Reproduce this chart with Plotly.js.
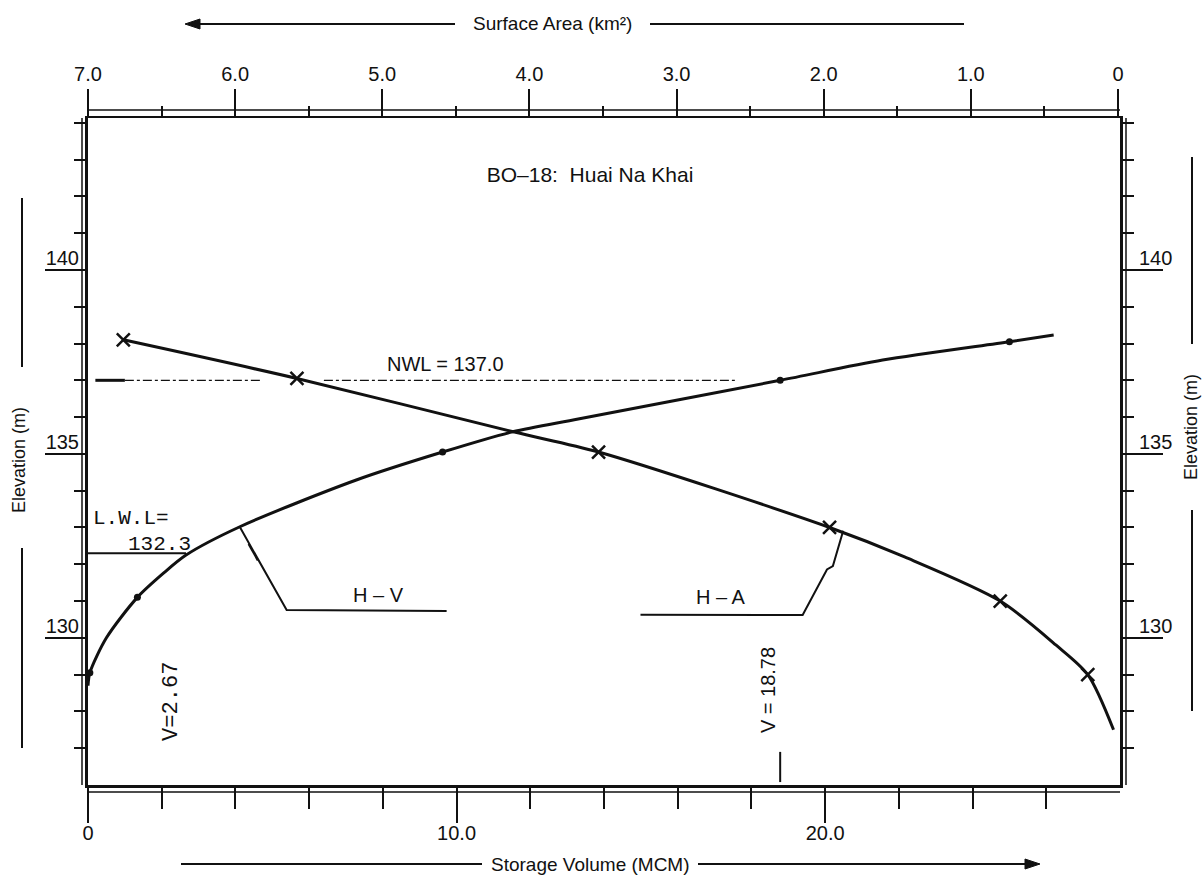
<!DOCTYPE html>
<html>
<head>
<meta charset="utf-8">
<script src="https://cdn.plot.ly/plotly-3.0.1.min.js"></script>
<style>html,body{margin:0;padding:0;background:#fff;}#chart{width:1202px;height:883px;}</style>
</head>
<body>
<div id="chart"></div>
<script>
// ---- data ----
// H-V curve (storage volume in MCM vs elevation in m)
const hvVolume    = [0, 0.05, 0.5, 1.34, 2.04, 2.66, 4.12, 7.28, 9.62, 11.52, 13.3, 18.78, 21.56, 25.0, 26.2];
const hvElevation = [128.7, 129.05, 130.0, 131.1, 131.75, 132.25, 133.02, 134.29, 135.05, 135.6, 135.95, 137.0, 137.55, 138.05, 138.23];
const hvDotVolume    = [0.05, 1.34, 9.62, 18.78, 25.0];
const hvDotElevation = [129.05, 131.1, 135.05, 137.0, 138.05];
// H-A curve (surface area in km2 vs elevation in m)
const haArea      = [6.76, 5.58, 4.11, 3.53, 1.96, 1.45, 0.80, 0.42, 0.205, 0.03];
const haElevation = [138.1, 137.05, 135.6, 135.05, 133.0, 132.2, 131.0, 129.8, 129.0, 127.5];
const haMarkArea      = [6.76, 5.58, 3.53, 1.96, 0.80, 0.205];
const haMarkElevation = [138.1, 137.05, 135.05, 133.0, 131.0, 129.0];
// reference levels
const nwl = 137.0, lwl = 132.3, vNwl = 18.78, vLwl = 2.67;
// axes ticks
const volTickVals = [0, 10, 20];
const volTickText = ['0', '10.0', '20.0'];
const volMinor = [2, 4, 6, 8, 12, 14, 16, 18, 22, 24, 26];
const areaTickVals = [7, 6, 5, 4, 3, 2, 1, 0];
const areaTickText = ['7.0', '6.0', '5.0', '4.0', '3.0', '2.0', '1.0', '0'];
const areaMinor = [6.5, 5.5, 4.5, 3.5, 2.5, 1.5, 0.5];
const elevTickVals = [130, 135, 140];
const elevTickText = ['130', '135', '140'];
const elevMinor = [127, 128, 129, 131, 132, 133, 134, 136, 137, 138, 139, 141, 142, 143, 144];

// ---- styles ----
const INK = '#111';
const SANS = 'Liberation Sans, Arial, sans-serif';
const MONO = 'Liberation Mono, Courier New, monospace';

const traces = [
  { x: hvVolume, y: hvElevation, xaxis: 'x', yaxis: 'y', mode: 'lines',
    line: { color: INK, width: 3, shape: 'spline', smoothing: 0.8 }, hoverinfo: 'skip', name: 'H - V' },
  { x: hvDotVolume, y: hvDotElevation, xaxis: 'x', yaxis: 'y', mode: 'markers',
    marker: { color: INK, size: 7, symbol: 'circle' }, name: 'H - V points' },
  { x: haArea, y: haElevation, xaxis: 'x2', yaxis: 'y', mode: 'lines',
    line: { color: INK, width: 3, shape: 'spline', smoothing: 0.8 }, hoverinfo: 'skip', name: 'H - A' },
  { x: haMarkArea, y: haMarkElevation, xaxis: 'x2', yaxis: 'y', mode: 'markers',
    marker: { symbol: 'x-thin-open', size: 13, color: INK, line: { color: INK, width: 2.5 } }, name: 'H - A points' },
  { x: hvDotVolume, y: hvDotElevation, xaxis: 'x', yaxis: 'y2', mode: 'markers',
    marker: { opacity: 0 }, hoverinfo: 'skip', showlegend: false }
];

const W = 1202, H = 883, L = 88, R = 82, T = 118, B = 98;
const pw = W - L - R, ph = H - T - B;
const px = v => (v - L) / pw;          // page pixel -> paper x
const py = v => (H - B - v) / ph;      // page pixel -> paper y

const tickFont = { family: SANS, size: 20, color: INK };
const capY = 24, botY = 864;

function arrowPath(xTip, yTip, dir) {
  const back = xTip - dir * 15;
  return 'M ' + px(xTip) + ',' + py(yTip) + ' L ' + px(back) + ',' + py(yTip - 5) +
         ' L ' + px(back) + ',' + py(yTip + 5) + ' Z';
}

const layout = {
  width: W, height: H,
  margin: { l: L, r: R, t: T, b: B, pad: 0 },
  paper_bgcolor: '#fff', plot_bgcolor: '#fff',
  showlegend: false,
  title: { text: 'BO\u201318:  Huai Na Khai', font: { family: SANS, size: 21, color: INK },
           xref: 'paper', yref: 'paper', x: px(590), y: py(175), xanchor: 'center', yanchor: 'middle' },
  xaxis: {
    range: [0, 28], showgrid: false, zeroline: false,
    showline: true, linecolor: INK, linewidth: 2.5,
    tickmode: 'array', tickvals: volTickVals, ticktext: volTickText,
    ticks: 'outside', ticklen: 35, tickwidth: 2, tickcolor: INK, tickfont: tickFont,
    ticklabelstandoff: -7,
    minor: { tickmode: 'array', tickvals: volMinor, ticks: 'outside', ticklen: 21, tickwidth: 2, tickcolor: INK }
  },
  xaxis2: {
    range: [7, -0.014], overlaying: 'x', side: 'top', anchor: 'y',
    showgrid: false, zeroline: false,
    showline: true, linecolor: INK, linewidth: 2.5,
    tickmode: 'array', tickvals: areaTickVals, ticktext: areaTickText,
    ticks: 'outside', ticklen: 27, tickwidth: 2, tickcolor: INK, tickfont: tickFont,
    ticklabelstandoff: 0,
    minor: { tickmode: 'array', tickvals: areaMinor, ticks: 'outside', ticklen: 10, tickwidth: 2, tickcolor: INK }
  },
  yaxis: {
    range: [126, 144.13], showgrid: false, zeroline: false,
    showline: true, linecolor: INK, linewidth: 3,
    tickmode: 'array', tickvals: elevTickVals, ticktext: elevTickText,
    ticks: 'outside', ticklen: 40, tickwidth: 2, tickcolor: INK, tickfont: tickFont,
    ticklabelstandoff: -38, ticklabelshift: -12,
    minor: { tickmode: 'array', tickvals: elevMinor, ticks: 'outside', ticklen: 11, tickwidth: 2, tickcolor: INK }
  },
  yaxis2: {
    range: [126, 144.13], overlaying: 'y', side: 'right', anchor: 'x',
    showgrid: false, zeroline: false,
    showline: true, linecolor: INK, linewidth: 3,
    tickmode: 'array', tickvals: elevTickVals, ticktext: elevTickText,
    ticks: 'outside', ticklen: 40, tickwidth: 2, tickcolor: INK, tickfont: tickFont,
    ticklabelstandoff: -28, ticklabelshift: -12,
    minor: { tickmode: 'array', tickvals: elevMinor, ticks: 'outside', ticklen: 11, tickwidth: 2, tickcolor: INK }
  },
  shapes: [
    // double frame lines (outer thin lines)
    { type: 'line', xref: 'paper', yref: 'paper', x0: 0, x1: 1, y0: py(110), y1: py(110), line: { color: INK, width: 1.5 } },
    { type: 'line', xref: 'paper', yref: 'paper', x0: 0, x1: 1, y0: py(792), y1: py(792), line: { color: INK, width: 1.5 } },
    { type: 'line', xref: 'paper', yref: 'paper', x0: px(82), x1: px(82), y0: 0, y1: 1, line: { color: INK, width: 1.5 } },
    { type: 'line', xref: 'paper', yref: 'paper', x0: px(1126), x1: px(1126), y0: 0, y1: 1, line: { color: INK, width: 1.5 } },
    // NWL line
    { type: 'line', xref: 'x', yref: 'y', x0: 0.2, x1: 1.0, y0: nwl, y1: nwl, line: { color: INK, width: 3 } },
    { type: 'line', xref: 'x', yref: 'y', x0: 1.0, x1: 4.7, y0: nwl, y1: nwl, line: { color: INK, width: 1.3, dash: 'dashdot' } },
    { type: 'line', xref: 'x', yref: 'y', x0: 6.4, x1: 17.55, y0: nwl, y1: nwl, line: { color: INK, width: 1.3, dash: 'dashdot' } },
    // LWL line
    { type: 'line', xref: 'x', yref: 'y', x0: 0, x1: 2.66, y0: lwl, y1: lwl, line: { color: INK, width: 2 } },
    // V = 18.78 marker below label
    { type: 'line', xref: 'x', yref: 'y', x0: vNwl, x1: vNwl, y0: 126.08, y1: 126.9, line: { color: INK, width: 2 } },
    // leaders
    { type: 'path', xref: 'x', yref: 'y', path: 'M 4.12,133.01 L 5.39,130.76 L 9.73,130.73', line: { color: INK, width: 2 } },
    { type: 'path', xref: 'x', yref: 'y', path: 'M 4.35,132.55 L 4.6,132.1', line: { color: INK, width: 1.5 } },
    { type: 'path', xref: 'x', yref: 'y', path: 'M 20.49,132.91 L 20.21,131.95 L 20.05,131.86 L 19.39,130.62 L 14.99,130.63', line: { color: INK, width: 2 } },
    // axis caption lines and arrowheads
    { type: 'line', xref: 'paper', yref: 'paper', x0: px(189), x1: px(455), y0: py(capY), y1: py(capY), line: { color: INK, width: 2 } },
    { type: 'line', xref: 'paper', yref: 'paper', x0: px(650), x1: px(964), y0: py(capY), y1: py(capY), line: { color: INK, width: 2 } },
    { type: 'path', xref: 'paper', yref: 'paper', path: arrowPath(185, capY, -1), fillcolor: INK, line: { color: INK, width: 1 } },
    { type: 'line', xref: 'paper', yref: 'paper', x0: px(181), x1: px(482), y0: py(botY), y1: py(botY), line: { color: INK, width: 2 } },
    { type: 'line', xref: 'paper', yref: 'paper', x0: px(698), x1: px(1030), y0: py(botY), y1: py(botY), line: { color: INK, width: 2 } },
    { type: 'path', xref: 'paper', yref: 'paper', path: arrowPath(1040, botY, 1), fillcolor: INK, line: { color: INK, width: 1 } },
    { type: 'line', xref: 'paper', yref: 'paper', x0: px(22), x1: px(22), y0: py(198), y1: py(367), line: { color: INK, width: 2 } },
    { type: 'line', xref: 'paper', yref: 'paper', x0: px(22), x1: px(22), y0: py(548), y1: py(748), line: { color: INK, width: 2 } },
    { type: 'line', xref: 'paper', yref: 'paper', x0: px(1192), x1: px(1192), y0: py(157), y1: py(344), line: { color: INK, width: 2 } },
    { type: 'line', xref: 'paper', yref: 'paper', x0: px(1192), x1: px(1192), y0: py(510), y1: py(711), line: { color: INK, width: 2 } }
  ],
  annotations: [
    { text: 'Surface Area (km\u00b2)', xref: 'paper', yref: 'paper', x: px(552), y: py(capY), showarrow: false,
      font: { family: SANS, size: 19, color: INK }, xanchor: 'center', yanchor: 'middle' },
    { text: 'Storage Volume (MCM)', xref: 'paper', yref: 'paper', x: px(590), y: py(botY), showarrow: false,
      font: { family: SANS, size: 19, color: INK }, xanchor: 'center', yanchor: 'middle' },
    { text: 'Elevation (m)', xref: 'paper', yref: 'paper', x: px(19), y: py(460), showarrow: false, textangle: -90,
      font: { family: SANS, size: 18, color: INK }, xanchor: 'center', yanchor: 'middle' },
    { text: 'Elevation (m)', xref: 'paper', yref: 'paper', x: px(1191), y: py(427), showarrow: false, textangle: -90,
      font: { family: SANS, size: 18, color: INK }, xanchor: 'center', yanchor: 'middle' },
    // in-plot labels
    { text: 'NWL = 137.0', xref: 'x', yref: 'y', x: 9.69, y: 137.44, showarrow: false,
      font: { family: SANS, size: 20, color: INK } },
    { text: 'L.W.L=', xref: 'x', yref: 'y', x: 1.17, y: 133.25, showarrow: false,
      font: { family: MONO, size: 21, color: INK } },
    { text: '132.3', xref: 'x', yref: 'y', x: 1.95, y: 132.55, showarrow: false,
      font: { family: MONO, size: 21, color: INK } },
    { text: 'H \u2013 V', xref: 'x', yref: 'y', x: 7.87, y: 131.16, showarrow: false,
      font: { family: SANS, size: 20, color: INK } },
    { text: 'H \u2013 A', xref: 'x', yref: 'y', x: 17.17, y: 131.11, showarrow: false,
      font: { family: SANS, size: 20, color: INK } },
    { text: 'V=2.67', xref: 'x', yref: 'y', x: 2.28, y: 128.26, showarrow: false, textangle: -90,
      font: { family: MONO, size: 22, color: INK } },
    { text: 'V = 18.78', xref: 'x', yref: 'y', x: 18.45, y: 128.58, showarrow: false, textangle: -90,
      font: { family: SANS, size: 20, color: INK } }
  ]
};

Plotly.newPlot('chart', traces, layout, { staticPlot: true, displayModeBar: false });
</script>
</body>
</html>
